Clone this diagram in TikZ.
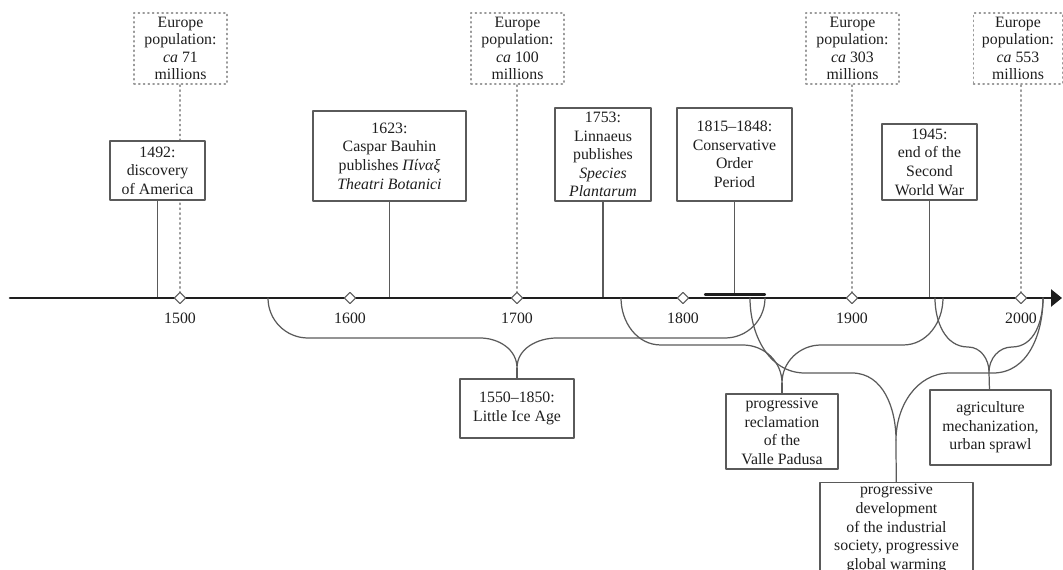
\documentclass[tikz,border=0pt]{standalone}
\usepackage{fontspec}
\setmainfont{Liberation Serif}
\usepackage{xcolor}
\usepackage{tikz}
\usetikzlibrary{arrows.meta,shapes.geometric,positioning}
\definecolor{boxgray}{HTML}{5A5A5A}
\definecolor{dotgray}{HTML}{9A9A9A}
\definecolor{axisblack}{HTML}{1E1E1E}
\tikzset{%
      evbox/.style = { draw=boxgray, line width=0.7pt, fill=white, align=center, inner sep=1pt, text=axisblack, font=\fontsize{9}{10.6}\selectfont },
     popbox/.style = { evbox, draw=dotgray, dotted, line width=0.8pt, minimum width=1.86cm, minimum height=1.42cm, font=\fontsize{9}{9.8}\selectfont },
       stem/.style = { boxgray, line width=0.8pt },
    popline/.style = { dotgray, dotted, line width=0.8pt },
      curly/.style = { boxgray, line width=0.7pt },
     axline/.style = { axisblack, line width=1.5pt },
      cobar/.style = { axisblack, line width=1.2pt },
       tick/.style = { diamond, draw=boxgray, fill=white, line width=0.6pt, inner sep=0pt, minimum size=2.3mm },
  ticklabel/.style = { text=axisblack, font=\fontsize{9}{10}\selectfont }
}

\begin{document}
\begin{tikzpicture}[x=0.2mm,y=0.2mm,line cap=round,line join=round]
\useasboundingbox (0,0) rectangle (1063,569);
% axis ends
\coordinate (ax) at (10,271);
\coordinate (axe) at (1062,271);
% population boxes and their dotted lines
\node[popbox] (pop1) at (180.5,520.5) {Europe\\population:\\\textit{ca} 71\\millions};
\node[popbox] (pop2) at (517.5,520.5) {Europe\\population:\\\textit{ca} 100\\millions};
\node[popbox] (pop3) at (852.5,520.5) {Europe\\population:\\\textit{ca} 303\\millions};
\node[popbox,minimum width=1.78cm] (pop4) at (1018,520.5) {Europe\\population:\\\textit{ca} 553\\millions};
\foreach \yr/\px in {1500/180,1700/517,1900/852,2000/1021}
  \coordinate (p\yr) at (\px,271);
\draw[popline] (p1500) -- (p1500 |- pop1.south);
\draw[popline] (p1700) -- (p1700 |- pop2.south);
\draw[popline] (p1900) -- (p1900 |- pop3.south);
\draw[popline] (p2000) -- (p2000 |- pop4.south);
% events above the axis
\node[evbox,minimum width=1.9cm,minimum height=1.18cm] (disc) at (157.5,398.5) {1492:\\discovery\\of America};
\node[evbox,minimum width=3.06cm,minimum height=1.8cm] (bauhin) at (389.5,413) {1623:\\Caspar Bauhin\\publishes \textit{Πίναξ}\\\textit{Theatri Botanici}};
\node[evbox,minimum width=1.92cm,minimum height=1.86cm] (linn) at (603,414.5) {1753:\\Linnaeus\\publishes\\\textit{Species}\\\textit{Plantarum}};
\node[evbox,minimum width=2.3cm,minimum height=1.86cm] (cons) at (734.5,414.5) {1815--1848:\\Conservative\\Order\\Period};
\node[evbox,minimum width=1.9cm,minimum height=1.52cm] (ww2) at (929.5,407) {1945:\\end of the\\Second\\World War};
\coordinate (c1815) at (705,274.5);
\coordinate (c1848) at (765,274.5);
\draw[stem] (disc.south) -- (disc.south |- ax);
\draw[stem] (bauhin.south) -- (bauhin.south |- ax);
\draw[stem] (linn.south) -- (linn.south |- ax);
\draw[stem] (ww2.south) -- (ww2.south |- ax);
\draw[stem] (cons.south) -- (cons.south |- c1815);
% the axis
\draw[axline,-{Triangle[length=2.2mm,width=3.4mm]}] (ax) -- (axe);
\draw[cobar] (c1815) -- (c1848);
\foreach \yr/\px in {1500/180,1600/350,1700/517,1800/683,1900/852,2000/1021}{
  \node[tick] (t\yr) at (\px,271) {};
  \node[ticklabel] (l\yr) at (\px,251) {\yr};
}
% periods below the axis
\node[evbox,minimum width=2.28cm,minimum height=1.18cm] (ice) at (517,160.5) {1550--1850:\\Little Ice Age};
\node[evbox,minimum width=2.24cm,minimum height=1.5cm] (valle) at (782,137.5) {progressive\\reclamation\\of the\\Valle Padusa};
\node[evbox,minimum width=3.06cm,anchor=north] (indus) at (896.5,87) {progressive\\development\\of the industrial\\society, progressive\\global warming};
\node[evbox,minimum width=2.42cm,minimum height=1.5cm] (agri) at (990.5,141.5) {agriculture\\mechanization,\\urban sprawl};
\coordinate (iceL) at (268,271);   \coordinate (iceR) at (765,271);   \coordinate (iceT) at (517,201);
\coordinate (valL) at (621,271);   \coordinate (valR) at (943,271);   \coordinate (valT) at (782,186);
\coordinate (indL) at (750,271);   \coordinate (indR) at (1043,271);  \coordinate (indT) at (896,129);
\coordinate (agrL) at (935,271);   \coordinate (agrR) at (1043,271);  \coordinate (agrT) at (989,197);
\draw[curly] (iceL) to[out=-90,in=180] (308,231) -- (480,231) to[out=0,in=90] (iceT)
             to[out=90,in=180] (557,231) -- (725,231) to[out=0,in=-90] (iceR);
\draw[curly] (iceT) -- (ice);
\draw[curly] (valL) to[out=-90,in=180] (661,224) -- (743,224) to[out=0,in=90] (valT)
             to[out=90,in=180] (821,224) -- (903,224) to[out=0,in=-90] (valR);
\draw[curly] (valT) -- (valle);
\draw[curly] (indL) to[out=-90,in=180] (805,196) -- (852,196) to[out=0,in=90] (indT)
             to[out=90,in=180] (950,196) -- (993,196) to[out=0,in=-90] (indR);
\draw[curly] (indT) -- (indus);
\draw[curly] (agrL) to[out=-90,in=180] (968,222) to[out=0,in=90] (agrT)
             to[out=90,in=180] (1012,222) to[out=0,in=-90] (agrR);
\draw[curly] (agrT) -- (agri);
\end{tikzpicture}
\end{document}
